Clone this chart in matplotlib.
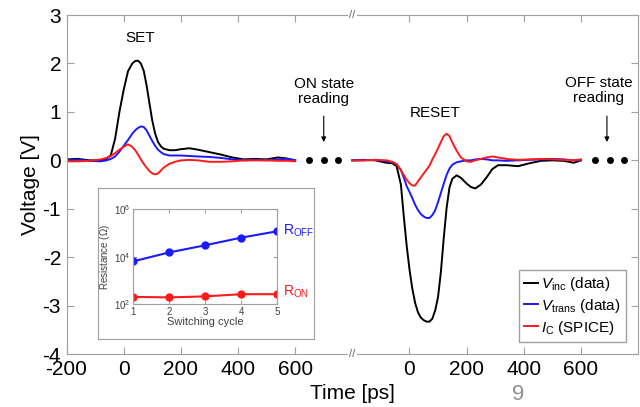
import matplotlib
matplotlib.use("Agg")
import matplotlib.pyplot as plt
import numpy as np

plt.rcParams['font.family'] = ['Liberation Sans', 'DejaVu Sans']
plt.rcParams['mathtext.fontset'] = 'custom'
plt.rcParams['mathtext.rm'] = 'Liberation Sans'
plt.rcParams['mathtext.it'] = 'Liberation Sans:italic'
plt.rcParams['axes.unicode_minus'] = False

# SET pulse (time in ps)
set_t = [-200, -160, -120, -80, -60, -45, -30, -15, 0, 15, 30, 40, 50, 60, 70, 80, 90, 100,
         110, 120, 130, 140, 160, 180, 200, 230, 260, 300, 340, 380, 420, 460, 500, 540, 570, 600]
set_vinc = [0.02, 0.03, 0.0, 0.0, 0.03, 0.11, 0.45, 1.0, 1.46, 1.84, 2.0, 2.05, 2.06, 2.0, 1.85, 1.55, 1.18, 0.82,
            0.55, 0.38, 0.29, 0.24, 0.21, 0.21, 0.23, 0.25, 0.22, 0.17, 0.12, 0.06, 0.02, 0.03, 0.02, 0.06, 0.04, 0.0]
set_vtrans = [0.0, 0.01, -0.01, -0.02, 0.0, 0.03, 0.08, 0.18, 0.3, 0.42, 0.55, 0.62, 0.67, 0.7, 0.69, 0.62, 0.51, 0.4,
              0.3, 0.22, 0.17, 0.13, 0.1, 0.1, 0.1, 0.09, 0.08, 0.07, 0.05, 0.02, 0.0, 0.01, 0.0, 0.02, 0.03, 0.0]
set_ic = [-0.02, -0.02, -0.01, 0.02, 0.05, 0.09, 0.15, 0.22, 0.28, 0.33, 0.28, 0.21, 0.12, 0.02, -0.07, -0.15, -0.22, -0.27,
          -0.29, -0.27, -0.21, -0.15, -0.07, -0.03, 0.0, 0.01, 0.0, -0.03, -0.03, -0.02, 0.0, 0.0, 0.0, -0.01, -0.01, -0.02]

# RESET pulse (time in ps, drawn after the axis break)
reset_t = [-200, -160, -120, -80, -60, -45, -30, -20, -10, 0, 10, 20, 30, 40, 50, 60, 70, 80, 90, 100, 110, 120,
           130, 140, 150, 165, 180, 200, 215, 230, 250, 270, 290, 310, 340, 380, 420, 460, 500, 540, 575, 600]
reset_vinc = [0.0, 0.01, 0.0, -0.05, -0.06, -0.12, -0.5, -1.15, -1.75, -2.25, -2.65, -2.95, -3.14, -3.25, -3.3, -3.33,
              -3.33, -3.27, -3.1, -2.82, -2.3, -1.6, -0.98, -0.56, -0.38, -0.31, -0.36, -0.48, -0.55, -0.58, -0.5,
              -0.35, -0.18, -0.1, -0.1, -0.12, -0.06, -0.01, 0.0, -0.01, -0.05, 0.0]
reset_vtrans = [0.0, 0.0, 0.01, -0.02, -0.04, -0.08, -0.2, -0.35, -0.53, -0.65, -0.78, -0.92, -1.03, -1.11, -1.16,
                -1.19, -1.19, -1.13, -1.03, -0.86, -0.67, -0.48, -0.3, -0.17, -0.09, -0.04, -0.02, 0.0, 0.0, 0.02,
                0.03, 0.02, 0.0, 0.0, -0.01, 0.0, 0.01, 0.02, 0.03, 0.02, 0.0, 0.0]
reset_ic = [0.0, 0.0, 0.01, 0.0, -0.03, -0.08, -0.2, -0.3, -0.4, -0.47, -0.52, -0.52, -0.43, -0.35, -0.27, -0.19,
            -0.11, 0.02, 0.13, 0.25, 0.38, 0.5, 0.55, 0.5, 0.37, 0.2, 0.06, -0.02, -0.03, 0.0, 0.03, 0.06, 0.08,
            0.06, 0.03, 0.01, 0.02, 0.03, 0.02, 0.01, 0.0, 0.02]

break_shift = 1000  # RESET time axis starts after the break
read_t = [650, 700, 750]

# inset: resistance vs switching cycle
cycles = [1, 2, 3, 4, 5]
r_off = [6300, 15000, 30000, 63000, 117000]
r_on = [200, 190, 210, 260, 260]

xticks = [-200, 0, 200, 400, 600, 1000, 1200, 1400, 1600]
xticklabels = ['-200', '0', '200', '400', '600', '0', '200', '400', '600']

blue = '#1a1aff'
red = '#ff1a1a'
grey = '#a0a0a0'

fig = plt.figure(figsize=(6.4, 4.07), dpi=100)
ax = fig.add_axes([0.104, 0.130, 0.893, 0.833])

rt = np.array(reset_t) + break_shift
ax.plot(set_t, set_vinc, color='black', lw=1.4)
ax.plot(set_t, set_vtrans, color=blue, lw=1.4)
ax.plot(set_t, set_ic, color=red, lw=1.4)
l1, = ax.plot(rt, reset_vinc, color='black', lw=1.4, label=r'$V_{\rm inc}$ (data)')
l2, = ax.plot(rt, reset_vtrans, color=blue, lw=1.4, label=r'$V_{\rm trans}$ (data)')
l3, = ax.plot(rt, reset_ic, color=red, lw=1.4, label=r'$I_{\rm C}$ (SPICE)')

ax.plot(read_t, [0, 0, 0], 'o', color='black', ms=4)
ax.plot(np.array(read_t) + break_shift, [0, 0, 0], 'o', color='black', ms=4)

ax.set_xlim(-200, 1800)
ax.set_ylim(-4, 3)
ax.set_xticks(xticks)
ax.set_xticklabels(xticklabels)
ax.set_yticks(range(-4, 4))
ax.tick_params(direction='in', length=5, color=grey, top=True, right=True,
               labelsize=15, pad=4)
for s in ax.spines.values():
    s.set_color(grey)
ax.set_ylabel('Voltage [V]', fontsize=15, labelpad=2)

# axis break marks
for yb in (3, -4):
    ax.text(800, yb, '//', ha='center', va='center', fontsize=8, color='#606060',
            bbox=dict(facecolor='white', edgecolor='none', pad=1), clip_on=False)

ax.text(57, 2.52, 'SET', ha='center', va='center', fontsize=11)
ax.text(1091, 0.97, 'RESET', ha='center', va='center', fontsize=11)
ax.text(700, 1.42, 'ON state\nreading', ha='center', va='center', fontsize=11, linespacing=1.05)
ax.text(1663, 1.44, 'OFF state\nreading', ha='center', va='center', fontsize=11, linespacing=1.05)
ax.annotate('', xy=(700, 0.32), xytext=(700, 0.97),
            arrowprops=dict(arrowstyle='-|>', color='black', lw=0.8, mutation_scale=7))
ax.annotate('', xy=(1691, 0.32), xytext=(1691, 0.97),
            arrowprops=dict(arrowstyle='-|>', color='black', lw=0.8, mutation_scale=7))

leg = ax.legend(handles=[l1, l2, l3], loc='lower right', fontsize=11, handlelength=0.9,
                handletextpad=0.2, borderaxespad=0.8, fancybox=False, framealpha=1,
                labelspacing=0.25, borderpad=0.35)
leg.get_frame().set_edgecolor(grey)

fig.text(0.551, 0.034, 'Time [ps]', ha='center', va='center', fontsize=15)
fig.text(0.81, 0.004, '9', ha='center', va='bottom', fontsize=16, color='#909090')

# inset frame and plot
frame = fig.add_axes([0.153, 0.167, 0.338, 0.371])
frame.set_xticks([])
frame.set_yticks([])
for s in frame.spines.values():
    s.set_color(grey)

ins = fig.add_axes([0.208, 0.253, 0.225, 0.233])
ins.semilogy(cycles, r_off, '-o', color=blue, lw=1.5, ms=5)
ins.semilogy(cycles, r_on, '-o', color=red, lw=1.5, ms=5)
ins.set_xlim(1, 5)
ins.set_ylim(1e2, 1e6)
ins.set_xticks(cycles)
ins.set_yticks([1e2, 1e4, 1e6])
ins.minorticks_off()
ins.tick_params(direction='in', length=3, color=grey, top=True, right=True,
                labelsize=7, pad=2, labelcolor='#404040')
for s in ins.spines.values():
    s.set_color(grey)
ins.set_xlabel('Switching cycle', fontsize=8, labelpad=0, color='#404040')
ins.set_ylabel('Resistance ($\\Omega$)', fontsize=7, labelpad=1, color='#404040')
ins.text(5.15, r_off[-1], r'R$_{\rm OFF}$', color=blue, fontsize=10, va='center', ha='left', clip_on=False)
ins.text(5.15, r_on[-1] * 1.25, r'R$_{\rm ON}$', color=red, fontsize=10, va='center', ha='left', clip_on=False)

fig.savefig('out.png', dpi=100)
